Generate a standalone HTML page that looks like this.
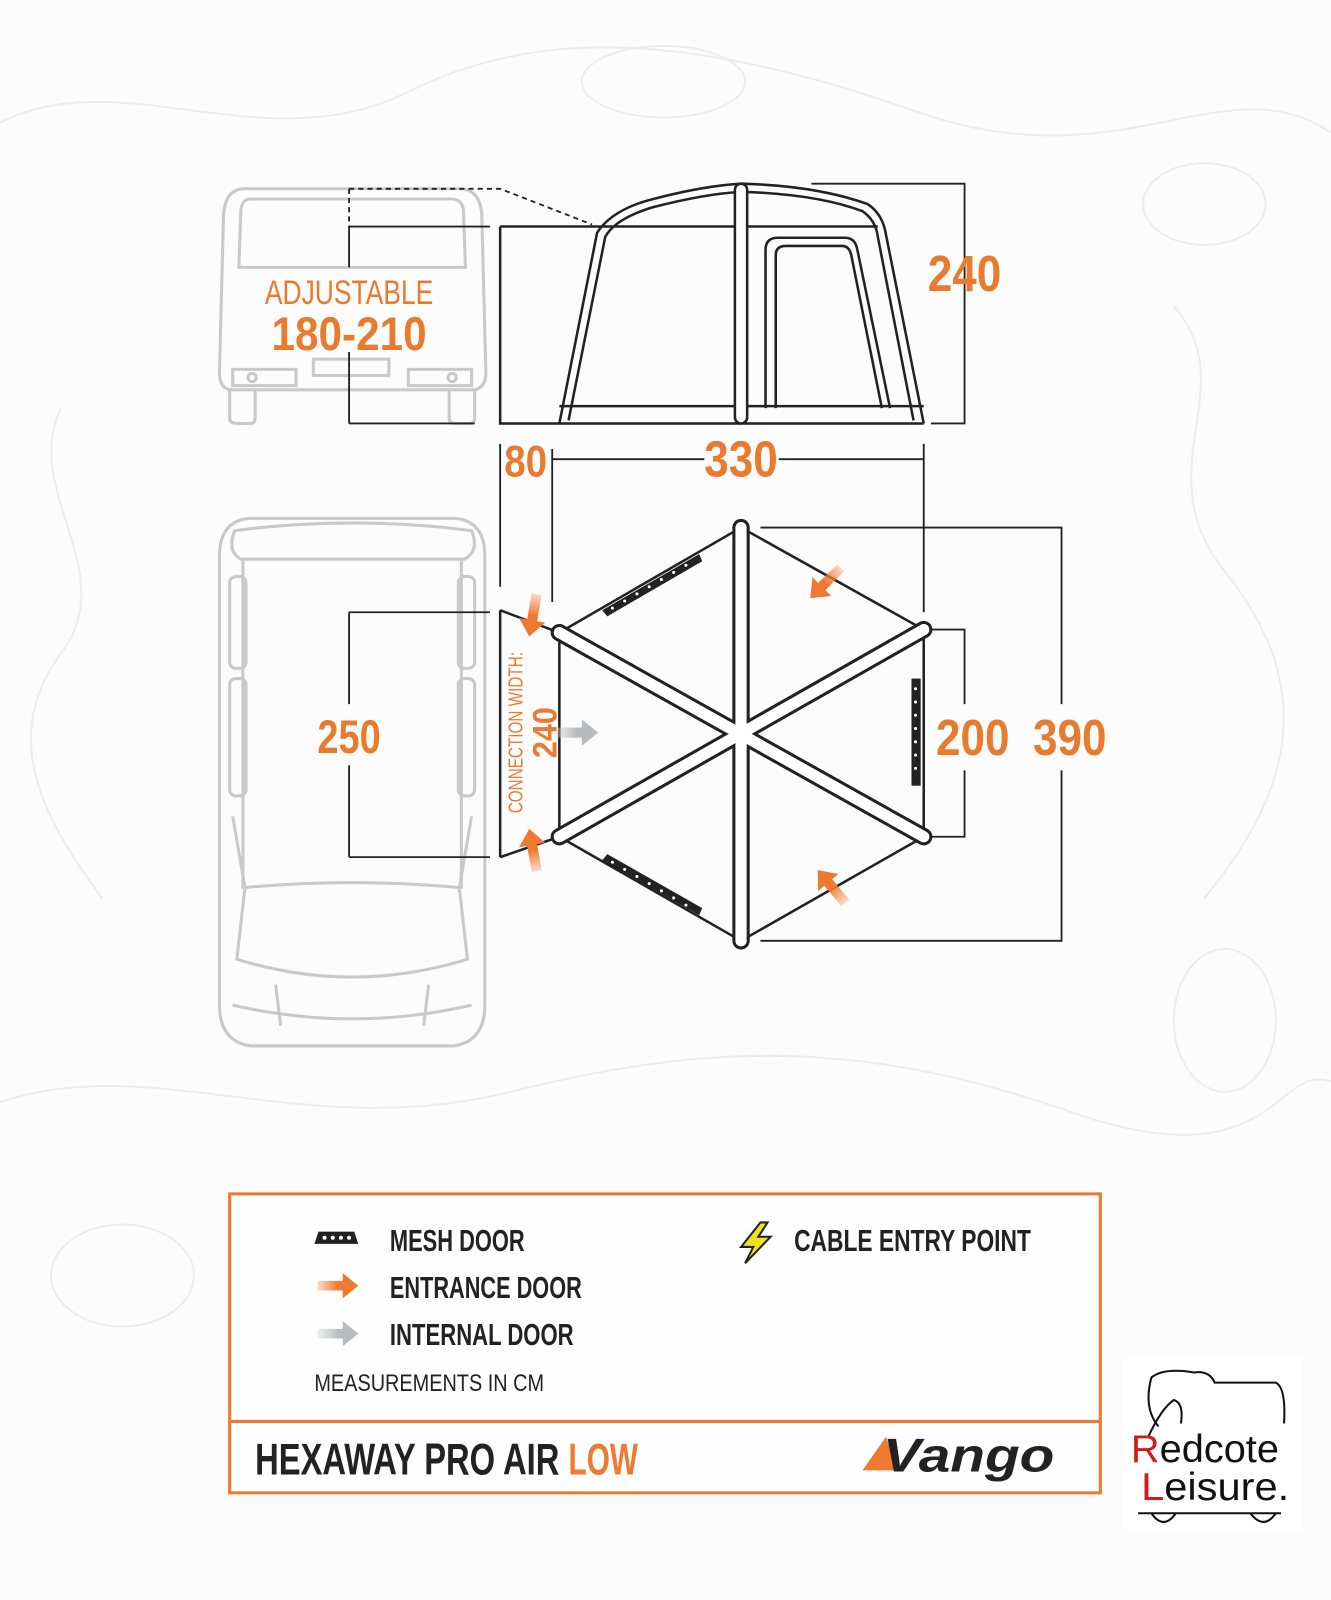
<!DOCTYPE html>
<html><head><meta charset="utf-8"><style>
html,body{margin:0;padding:0;background:#fcfcfc;}
svg{display:block;}
text{font-family:"Liberation Sans",sans-serif;}
</style></head><body>
<svg width="1331" height="1600" viewBox="0 0 1304 1568" preserveAspectRatio="none" xmlns="http://www.w3.org/2000/svg">
<rect width="1304" height="1568" fill="#fcfcfc"/>
<!-- faint topo lines -->
<g fill="none" stroke="#ececec" stroke-width="2">
<path d="M0 120 C120 60 260 160 400 90 S700 40 900 110 S1200 60 1304 130"/>
<path d="M0 1080 C150 1030 300 1120 500 1070 S850 1020 1050 1090 S1250 1040 1304 1060"/>
<path d="M60 400 C20 480 120 560 60 640 S40 800 100 880"/>
<path d="M1150 300 C1220 380 1120 460 1200 560 S1280 760 1180 880"/>
<ellipse cx="1180" cy="200" rx="60" ry="40"/><ellipse cx="120" cy="1250" rx="70" ry="50"/>
<ellipse cx="1200" cy="1000" rx="50" ry="70"/><ellipse cx="650" cy="80" rx="80" ry="35"/>
</g>

<!-- van rear -->
<g fill="none" stroke="#c9c9c9" stroke-width="3">
<path d="M240 185 H450 Q470 185 472 210 L476 365 Q476 380 465 382 L225 382 Q215 380 215 365 L219 210 Q221 185 240 185 Z"/>
<path d="M245 195 H442 Q452 195 454 205 L456 262 H234 L236 205 Q238 195 245 195Z"/>
<rect x="307" y="352" width="74" height="16"/>
<path d="M228 362 H290 V378 H228Z M400 362 H462 V378 H400Z"/>
<circle cx="247" cy="370" r="4"/><circle cx="443" cy="370" r="4"/>
<path d="M225 382 V410 Q225 415 232 415 H245 Q250 415 250 410 V382"/>
<path d="M440 382 V410 Q440 415 447 415 H460 Q465 415 465 410 V382"/>
</g>
<!-- dims rear -->
<g stroke="#222" stroke-width="1.8" fill="none">
<path d="M342 222 V262 M342 345 V415 M342 222 H480 M342 415 H465"/>
<path d="M342 185 H490 L580 220 M342 185 V222" stroke-dasharray="5 4"/>
</g>
<text x="342" y="298" text-anchor="middle" font-size="34" fill="#e87b2e" textLength="165" lengthAdjust="spacingAndGlyphs">ADJUSTABLE</text>
<text x="342" y="343" text-anchor="middle" font-size="46" font-weight="bold" fill="#e87b2e" textLength="152" lengthAdjust="spacingAndGlyphs">180-210</text>

<!-- tent side -->
<g fill="none" stroke="#222" stroke-width="2.5">
<path d="M490 222 H585 M490 222 V415 H905 M585 222 H860"/>
<path d="M548 415 L585 228 Q600 205 640 195 Q690 182 726 180 Q800 182 850 200 Q865 210 868 230 L905 415"/>
<path d="M557 412 L593 232 Q603 214 640 203 Q690 190 726 188 Q800 190 845 207 Q858 216 860 232 L895 412"/>
<path d="M548 398 H905"/>
<path d="M750 400 V245 Q750 233 762 233 H828 Q838 233 840 245 L872 400"/>
<path d="M760 400 V250 Q760 241 770 241 H825 Q832 241 834 250 L864 400"/>
<rect x="720" y="180" width="12" height="235" rx="6" fill="#fff"/>
</g>
<g stroke="#222" stroke-width="1.8" fill="none">
<path d="M795 180 H945 V415 H912"/>
<path d="M490 435 V575 M541 440 V590 M905 435 V600 M541 450 H690 M763 450 H905"/>
</g>
<text x="945" y="285" text-anchor="middle" font-size="50" font-weight="bold" fill="#e87b2e" textLength="72" lengthAdjust="spacingAndGlyphs">240</text>
<text x="515" y="467" text-anchor="middle" font-size="44" font-weight="bold" fill="#e87b2e" textLength="42" lengthAdjust="spacingAndGlyphs">80</text>
<text x="726" y="467" text-anchor="middle" font-size="50" font-weight="bold" fill="#e87b2e" textLength="72" lengthAdjust="spacingAndGlyphs">330</text>

<!-- van top -->
<g fill="none" stroke="#c9c9c9" stroke-width="3">
<path d="M245 508 H445 Q475 510 475 545 V985 Q475 1020 445 1025 H245 Q215 1020 215 985 V545 Q215 510 245 508Z"/>
<path d="M230 520 Q345 505 462 520 Q470 540 455 548 H236 Q222 540 230 520Z"/>
<path d="M238 548 V870 Q345 860 452 870 V548"/>
<rect x="225" y="565" width="16" height="90" rx="6"/><rect x="225" y="665" width="16" height="115" rx="6"/>
<rect x="449" y="565" width="16" height="90" rx="6"/><rect x="449" y="665" width="16" height="115" rx="6"/>
<path d="M228 800 L240 870 M462 800 L450 870"/>
<path d="M240 870 L232 940 Q345 975 458 940 L450 870"/>
<path d="M228 985 Q345 1012 462 985"/>
<path d="M270 965 L275 1005 M420 965 L415 1005"/>
</g>

<!-- dims 250 -->
<g stroke="#222" stroke-width="1.8" fill="none">
<path d="M342 600 V690 M342 750 V840 M342 600 H480 M342 840 H480"/>
<path d="M745 517 H1040 V690 M1040 755 V922 H745"/>
<path d="M912 617 H945 V690 M945 755 V820 H912"/>
</g>
<text x="342" y="738" text-anchor="middle" font-size="46" font-weight="bold" fill="#e87b2e" textLength="62" lengthAdjust="spacingAndGlyphs">250</text>
<text x="953" y="740" text-anchor="middle" font-size="50" font-weight="bold" fill="#e87b2e" textLength="72" lengthAdjust="spacingAndGlyphs">200</text>
<text x="1048" y="740" text-anchor="middle" font-size="50" font-weight="bold" fill="#e87b2e" textLength="72" lengthAdjust="spacingAndGlyphs">390</text>

<!-- hexagon -->
<g fill="none" stroke="#222" stroke-width="2.5">
<path d="M490 598 L548 620 M490 840 L548 820 M490 598 V840"/>
<path d="M726 517 L905 617 V820 L726 922 L548 820 V620 Z"/>
</g>
<g stroke-linecap="round" fill="none">
<g stroke="#222" stroke-width="17">
<path d="M726 517 V922 M548 620 L905 820 M548 820 L905 617"/>
</g>
<g stroke="#fff" stroke-width="11">
<path d="M726 517 V922 M548 620 L905 820 M548 820 L905 617"/>
</g>
</g>
<!-- mesh doors -->
<g>
<path d="M590 598 L685 543 L688 550 L595 604Z" fill="#222"/>
<path d="M590 843 L685 897 L688 890 L595 837Z" fill="#222"/>
<rect x="893" y="665" width="9" height="105" fill="#222"/>
</g>
<g fill="#fff">
<circle cx="600" cy="596" r="1.5"/><circle cx="612" cy="589" r="1.5"/><circle cx="624" cy="582" r="1.5"/><circle cx="636" cy="575" r="1.5"/><circle cx="648" cy="568" r="1.5"/><circle cx="660" cy="561" r="1.5"/><circle cx="672" cy="554" r="1.5"/>
<circle cx="600" cy="845" r="1.5"/><circle cx="612" cy="852" r="1.5"/><circle cx="624" cy="859" r="1.5"/><circle cx="636" cy="866" r="1.5"/><circle cx="648" cy="873" r="1.5"/><circle cx="660" cy="880" r="1.5"/><circle cx="672" cy="887" r="1.5"/>
<circle cx="897" cy="675" r="1.5"/><circle cx="897" cy="688" r="1.5"/><circle cx="897" cy="701" r="1.5"/><circle cx="897" cy="714" r="1.5"/><circle cx="897" cy="727" r="1.5"/><circle cx="897" cy="740" r="1.5"/><circle cx="897" cy="753" r="1.5"/>
</g>
<!-- arrows -->
<defs>
<linearGradient id="og" x1="0" x2="1"><stop offset="0" stop-color="#f08a45" stop-opacity="0.3"/><stop offset="0.5" stop-color="#ee7a30"/></linearGradient>
<linearGradient id="gg" x1="0" x2="1"><stop offset="0" stop-color="#c8cacc" stop-opacity="0.3"/><stop offset="0.5" stop-color="#b9bcbf"/></linearGradient>
<path id="arr" d="M-22 -5 H4 V-13 L20 0 L4 13 V5 H-22Z"/>
</defs>
<use href="#arr" fill="url(#og)" transform="translate(808 572) rotate(135)"/>
<use href="#arr" fill="url(#og)" transform="translate(522 604) rotate(100)"/>
<use href="#arr" fill="url(#og)" transform="translate(522 832) rotate(-100)"/>
<use href="#arr" fill="url(#og)" transform="translate(814 868) rotate(-130)"/>
<use href="#arr" fill="url(#gg)" transform="translate(566 718)"/>
<text transform="translate(512 718) rotate(-90)" text-anchor="middle" font-size="20" fill="#e87b2e" textLength="158" lengthAdjust="spacingAndGlyphs">CONNECTION WIDTH:</text>
<text transform="translate(545 718) rotate(-90)" text-anchor="middle" font-size="34" font-weight="bold" fill="#e87b2e" textLength="50" lengthAdjust="spacingAndGlyphs">240</text>

<!-- legend -->
<rect x="225" y="1170" width="853" height="293" fill="#fff" fill-opacity="0.6" stroke="#ee7a30" stroke-width="3"/>
<line x1="225" y1="1393" x2="1078" y2="1393" stroke="#ee7a30" stroke-width="3"/>
<path d="M308 1219 L312 1207 H347 L351 1219Z" fill="#222"/>
<g fill="#fff"><circle cx="318" cy="1213" r="2"/><circle cx="326" cy="1213" r="2"/><circle cx="334" cy="1213" r="2"/><circle cx="342" cy="1213" r="2"/></g>
<use href="#arr" fill="url(#og)" transform="translate(332 1260) scale(0.95)"/>
<use href="#arr" fill="url(#gg)" transform="translate(332 1307) scale(0.95)"/>
<path d="M745 1198 L726 1222 H738 L730 1238 L755 1212 H743 L752 1198Z" fill="#f4e020" stroke="#222" stroke-width="2"/>
<g font-size="30" font-weight="bold" fill="#222">
<text x="382" y="1226" textLength="132" lengthAdjust="spacingAndGlyphs">MESH DOOR</text>
<text x="382" y="1272" textLength="188" lengthAdjust="spacingAndGlyphs">ENTRANCE DOOR</text>
<text x="382" y="1318" textLength="180" lengthAdjust="spacingAndGlyphs">INTERNAL DOOR</text>
<text x="778" y="1226" textLength="232" lengthAdjust="spacingAndGlyphs">CABLE ENTRY POINT</text>
</g>
<text x="308" y="1363" font-size="24" fill="#222" textLength="225" lengthAdjust="spacingAndGlyphs">MEASUREMENTS IN CM</text>
<text x="250" y="1445" font-size="44" font-weight="bold" fill="#222" textLength="298" lengthAdjust="spacingAndGlyphs">HEXAWAY PRO AIR</text>
<text x="557" y="1445" font-size="44" font-weight="bold" fill="#ee7a30" textLength="68" lengthAdjust="spacingAndGlyphs">LOW</text>
<path d="M845 1441 L868 1408 L880 1441Z" fill="#ee7a30"/>
<text x="865" y="1442" font-size="46" font-weight="bold" font-style="italic" fill="#222" textLength="168" lengthAdjust="spacingAndGlyphs">Vango</text>

<!-- redcote logo -->
<rect x="1100" y="1330" width="175" height="170" fill="#fff"/>
<g fill="none" stroke="#111" stroke-width="2">
<path d="M1135 1398 Q1120 1380 1128 1350 Q1140 1340 1170 1345 Q1185 1343 1190 1355 H1250 Q1260 1360 1258 1395"/>
<path d="M1125 1408 Q1138 1380 1150 1372 Q1160 1375 1157 1395"/>
<path d="M1115 1483 H1255 M1128 1483 Q1140 1500 1152 1483 M1225 1483 Q1238 1500 1250 1483"/>
</g>
<text x="1108" y="1433" font-size="38" fill="#111" textLength="145" lengthAdjust="spacingAndGlyphs" font-family="DejaVu Sans"><tspan fill="#d31b1b">R</tspan>edcote</text>
<text x="1118" y="1470" font-size="38" fill="#111" textLength="145" lengthAdjust="spacingAndGlyphs" font-family="DejaVu Sans"><tspan fill="#d31b1b">L</tspan>eisure.</text>
</svg>
</body></html>
